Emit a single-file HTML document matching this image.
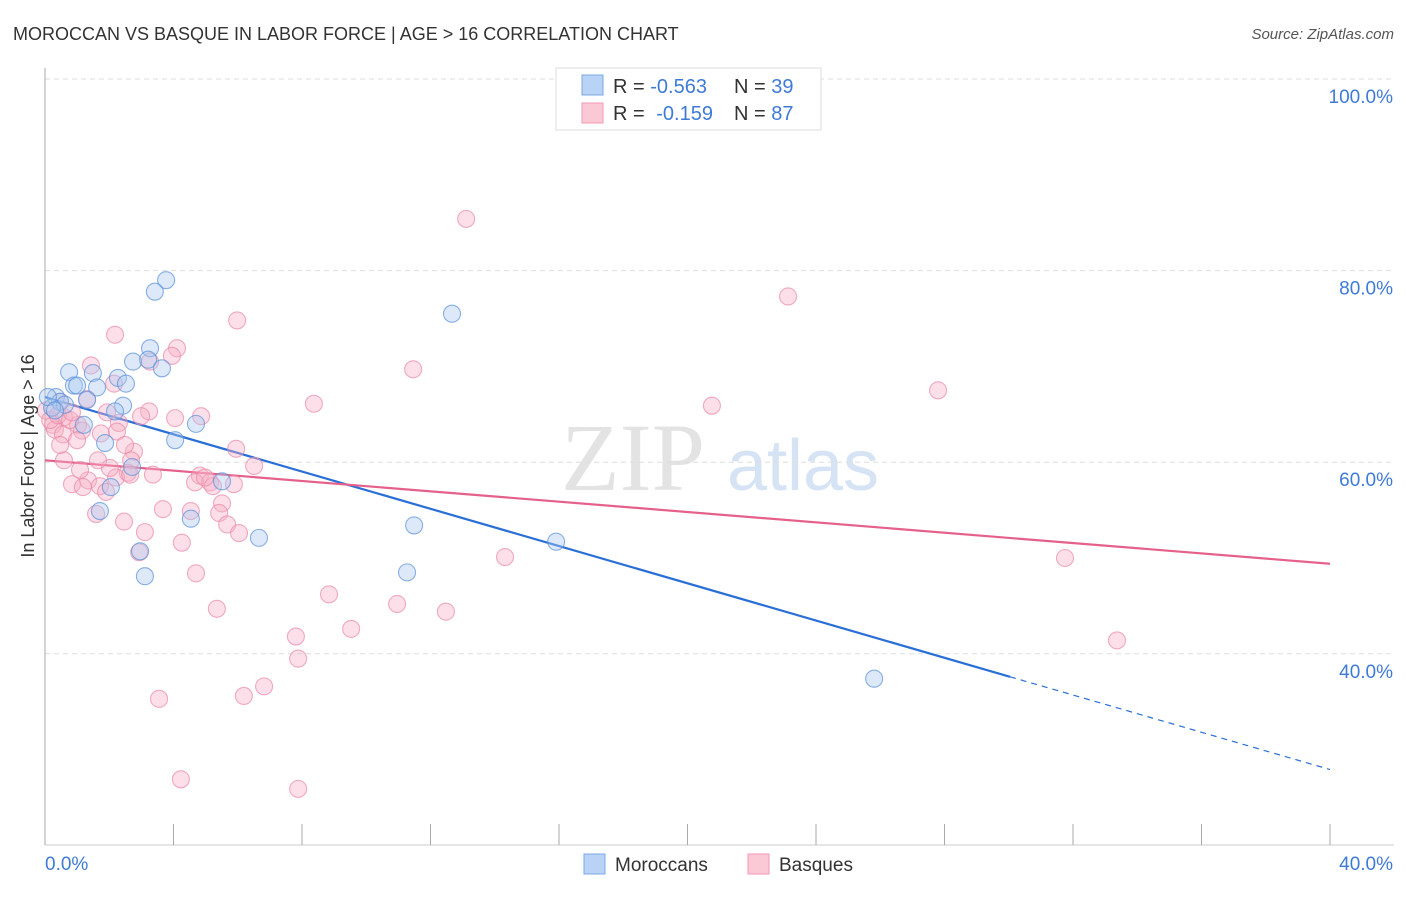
<!DOCTYPE html>
<html><head><meta charset="utf-8"><style>
body{margin:0;background:#fff;font-family:"Liberation Sans",sans-serif;}
svg text{font-family:"Liberation Sans",sans-serif;}
</style></head><body>
<svg id="chart" width="1406" height="892" xmlns="http://www.w3.org/2000/svg">
<text x="13" y="40" font-size="18" fill="#333">MOROCCAN VS BASQUE IN LABOR FORCE | AGE &gt; 16 CORRELATION CHART</text>
<text x="1394" y="39" font-size="15" fill="#555" text-anchor="end" font-style="italic">Source: ZipAtlas.com</text>
<g>
<text x="633" y="490" font-size="96" fill="#e3e3e3" text-anchor="middle" font-family="Liberation Serif" style="font-family:'Liberation Serif',serif">ZIP</text>
<text x="803" y="490" font-size="72" fill="#d5e3f4" text-anchor="middle">atlas</text>
</g>
<g id="grid"></g>
<g id="axes"></g>
<g id="trends"></g>
<g id="points"></g>
<text transform="translate(34,456) rotate(-90)" font-size="18" fill="#333" text-anchor="middle">In Labor Force | Age &gt; 16</text>
<g>
<rect x="556" y="68" width="265" height="62" fill="#fff" stroke="#ddd"/>
<rect x="582" y="75" width="21" height="20" fill="#b8d3f6" stroke="#7aa8e6"/>
<rect x="582" y="103" width="21" height="20" fill="#fbc8d6" stroke="#f09ab4"/>
<text x="613" y="93" font-size="20" fill="#333">R = <tspan fill="#3f7bd6">-0.563</tspan><tspan x="734">N = </tspan><tspan fill="#3f7bd6">39</tspan></text>
<text x="613" y="120" font-size="20" fill="#333">R = <tspan fill="#3f7bd6" dx="6">-0.159</tspan><tspan x="734">N = </tspan><tspan fill="#3f7bd6">87</tspan></text>
</g>
<g>
<rect x="584" y="854" width="21" height="20" fill="#b8d3f6" stroke="#7aa8e6"/>
<text x="615" y="871" font-size="19" fill="#333">Moroccans</text>
<rect x="748" y="854" width="21" height="20" fill="#fbc8d6" stroke="#f09ab4"/>
<text x="779" y="871" font-size="19" fill="#333">Basques</text>
</g>
</svg>
<script>
const xTicks=[0,40];
const yTicks=[100,80,60,40];
const moroccanX=[3.77,3.42,12.67,3.27,2.74,3.21,3.64,0.75,1.49,2.27,0.90,1.00,1.62,2.52,0.34,0.47,0.62,0.22,2.43,2.18,1.21,4.70,4.05,1.87,2.71,5.51,2.05,1.71,4.54,11.49,6.66,15.91,2.96,3.11,11.27,25.81,0.09,0.31,1.31];
const moroccanY=[79.0,77.8,75.5,71.9,70.5,70.7,69.8,69.4,69.3,68.8,68.0,68.0,67.8,68.2,66.8,66.3,66.0,65.7,65.9,65.3,63.9,64.0,62.3,62.0,59.5,58.0,57.4,54.9,54.1,53.4,52.1,51.7,50.7,48.1,48.5,37.4,66.8,65.4,66.5];
const basqueX=[13.11,23.13,5.98,2.18,4.11,3.95,1.43,3.27,11.46,27.80,2.15,20.76,8.37,1.31,0.47,3.24,4.86,0.59,1.93,4.05,2.99,2.30,1.03,1.15,0.25,0.31,1.74,2.24,0.56,1.00,5.95,2.77,2.49,0.59,2.68,6.51,3.36,2.58,1.34,0.84,1.18,1.71,4.82,4.67,5.14,5.23,5.88,5.51,1.90,2.21,3.67,4.54,5.42,1.59,2.46,5.67,6.04,3.11,4.26,2.93,14.32,31.75,4.70,8.84,5.35,10.96,12.48,9.53,7.81,33.37,7.88,6.82,6.19,3.55,4.23,7.88,0.03,0.16,0.40,0.78,2.02,1.65,2.65,4.98,1.09,0.47,0.84];
const basqueY=[85.4,77.3,74.8,73.3,71.9,71.1,70.1,70.5,69.7,67.5,68.2,65.9,66.1,66.6,66.3,65.3,64.8,64.7,65.2,64.6,64.8,64.1,63.9,63.3,63.9,63.4,63.0,63.2,62.9,62.3,61.4,61.1,61.8,60.2,60.2,59.6,58.7,58.9,58.1,57.7,57.4,57.5,58.6,57.9,57.9,57.5,57.7,55.7,56.9,58.4,55.1,54.9,54.7,54.6,53.8,53.5,52.6,52.7,51.6,50.6,50.1,50.0,48.4,46.2,44.7,45.2,44.4,42.6,41.8,41.4,39.5,36.6,35.6,35.3,26.9,25.9,65.4,64.4,64.9,64.4,59.4,60.2,58.7,58.4,59.2,61.8,65.2];
const moroccanTrend=[66.8,-0.972];
const basqueTrend=[60.2,-0.27];
const NS='http://www.w3.org/2000/svg';
const X=v=>45+v*32.125;
const Y=v=>79+(100-v)*9.58;
function mk(tag,attrs,parent){const e=document.createElementNS(NS,tag);for(const k in attrs)e.setAttribute(k,attrs[k]);document.getElementById(parent).appendChild(e);return e;}
yTicks.forEach(t=>{
  const l=mk('line',{x1:45,x2:1394,y1:Y(t),y2:Y(t),stroke:'#ddd','stroke-dasharray':'5,4'},'grid');
  
  
  const tx=mk('text',{x:1393,y:Y(t)+24,'font-size':19,fill:'#3f7bd6','text-anchor':'end'},'grid');
  tx.textContent=t.toFixed(1)+'%';
  
  
});
const ax=mk('line',{x1:45,x2:45,y1:68,y2:845,stroke:'#aaa'},'axes');


const bx=mk('line',{x1:45,x2:1394,y1:845,y2:845,stroke:'#ccc'},'axes');


for(let i=0;i<=10;i++){
  const t=mk('line',{x1:X(i*4),x2:X(i*4),y1:824,y2:845,stroke:'#aaa'},'axes');
  
  
}
xTicks.forEach((t,i)=>{
  const tx=mk('text',{x:i==0?45:1393,y:870,'font-size':19,fill:'#3f7bd6','text-anchor':i==0?'start':'end'},'axes');
  tx.textContent=t.toFixed(1)+'%';
  
  
});
function pts(xs,ys,fill,stroke,name){
  xs.forEach((x,i)=>{
    const c=mk('circle',{cx:X(x),cy:Y(ys[i]),r:8.5,fill:fill,'fill-opacity':0.4,stroke:stroke,'stroke-opacity':0.7,'stroke-width':1.1},'points');
    
    
  });
}
pts(basqueX,basqueY,'#f7b0c5','#e98aa8','basque-point');
pts(moroccanX,moroccanY,'#abc9f0','#5a90da','moroccan-point');
const bEnd=30.04;
let l=mk('line',{x1:X(0),y1:Y(moroccanTrend[0]),x2:X(bEnd),y2:Y(moroccanTrend[0]+moroccanTrend[1]*bEnd),stroke:'#2a6fd6','stroke-width':2.2},'trends');


l=mk('line',{x1:X(bEnd),y1:Y(moroccanTrend[0]+moroccanTrend[1]*bEnd),x2:X(40),y2:Y(moroccanTrend[0]+moroccanTrend[1]*40),stroke:'#2a6fd6','stroke-width':1.2,'stroke-dasharray':'6,5'},'trends');


l=mk('line',{x1:X(0),y1:Y(basqueTrend[0]),x2:X(40),y2:Y(basqueTrend[0]+basqueTrend[1]*40),stroke:'#e5608a','stroke-width':2.2},'trends');


</script>
</body></html>
